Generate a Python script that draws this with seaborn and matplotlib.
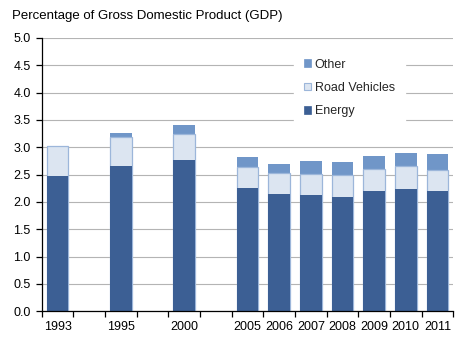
import matplotlib
matplotlib.use("Agg")
import matplotlib.pyplot as plt
from matplotlib.patches import Patch
from matplotlib.ticker import FixedLocator, NullFormatter
import numpy as np
import pandas as pd
import seaborn as sns

# Environmental taxes as a share of GDP, by type
years = ["1993", "1995", "2000", "2005", "2006", "2007", "2008", "2009", "2010", "2011"]
energy = [2.48, 2.66, 2.77, 2.26, 2.15, 2.13, 2.10, 2.21, 2.24, 2.20]
road_vehicles = [0.54, 0.53, 0.48, 0.38, 0.38, 0.39, 0.40, 0.40, 0.41, 0.39]
other = [0.00, 0.07, 0.16, 0.18, 0.16, 0.23, 0.23, 0.23, 0.24, 0.28]

# Category slots on the axis, with empty slots between the early years
slot_order = ["1993", " ", "1995", "  ", "2000", "   ",
              "2005", "2006", "2007", "2008", "2009", "2010", "2011"]

series_names = ["Other", "Road Vehicles", "Energy"]
c_energy = "#3C5F94"
c_road = "#DCE5F1"
c_road_edge = "#9CB6DA"
c_other = "#7096C8"

df = pd.DataFrame({"year": years, "energy": energy,
                   "road": road_vehicles, "other": other})
df["road_top"] = df["energy"] + df["road"]
df["total"] = df["road_top"] + df["other"]

sns.set_style("white")
plt.rcParams["font.family"] = ["Liberation Sans", "DejaVu Sans"]
plt.rcParams["font.size"] = 9

fig = plt.figure(figsize=(4.72, 3.38), dpi=100)
ax = fig.add_axes([41.7 / 472, 1 - 311.3 / 338, (453.3 - 41.7) / 472, (311.3 - 38) / 338])

bar_w = 0.69
# Stack by overdrawing cumulative heights, top layer first
sns.barplot(data=df, x="year", y="total", order=slot_order, color=c_other,
            saturation=1, width=bar_w, linewidth=0, ax=ax, zorder=2)
sns.barplot(data=df, x="year", y="road_top", order=slot_order, color=c_road,
            saturation=1, width=bar_w, edgecolor=c_road_edge, linewidth=0.9,
            ax=ax, zorder=3)
sns.barplot(data=df, x="year", y="energy", order=slot_order, color=c_energy,
            saturation=1, width=bar_w, linewidth=0, ax=ax, zorder=4)

ax.set_xlim(-0.5, len(slot_order) - 0.5)
ax.set_ylim(0, 5.0)
ax.set_yticks(np.arange(0, 5.01, 0.5))
ax.set_yticklabels([f"{v:.1f}" for v in np.arange(0, 5.01, 0.5)])
ax.set_xlabel("")
ax.set_ylabel("")

ax.set_xticks(range(len(slot_order)))
ax.set_xticklabels([s.strip() for s in slot_order])
ax.xaxis.set_minor_locator(FixedLocator(np.arange(-0.5, len(slot_order), 1.0)))
ax.xaxis.set_minor_formatter(NullFormatter())
ax.tick_params(axis="x", which="major", length=0, pad=7, labelsize=9, colors="black")
ax.tick_params(axis="x", which="minor", bottom=True, length=4, width=0.9, color="black")
ax.tick_params(axis="y", which="major", left=True, length=4, width=0.9, pad=4,
               labelsize=9, colors="black")

ax.grid(axis="y", color="#B4B4B4", linewidth=0.8, zorder=0)
ax.set_axisbelow(True)
for side in ["top", "right"]:
    ax.spines[side].set_visible(False)
for side in ["left", "bottom"]:
    ax.spines[side].set_color("black")
    ax.spines[side].set_linewidth(0.9)
    ax.spines[side].set_zorder(5)

handles = [
    Patch(facecolor=c_other, edgecolor=c_other, linewidth=0.5),
    Patch(facecolor=c_road, edgecolor=c_road_edge, linewidth=0.8),
    Patch(facecolor=c_energy, edgecolor=c_energy, linewidth=0.5),
]
leg = ax.legend(handles, series_names, loc="upper left",
                bbox_to_anchor=(0.612, 0.961), frameon=True, fontsize=9,
                handlelength=0.6, handleheight=0.6, handletextpad=0.3,
                labelspacing=0.9, borderpad=0.8, borderaxespad=0)
leg.get_frame().set_facecolor("white")
leg.get_frame().set_edgecolor("white")
leg.get_frame().set_alpha(1)
leg.get_frame().set_boxstyle("square", pad=0)
leg.set_zorder(6)

fig.text(12 / 472, 1 - 16.5 / 338, "Percentage of Gross Domestic Product (GDP)",
         ha="left", va="center", fontsize=9.5, color="black")

fig.savefig("out.png", dpi=100, facecolor="white")
